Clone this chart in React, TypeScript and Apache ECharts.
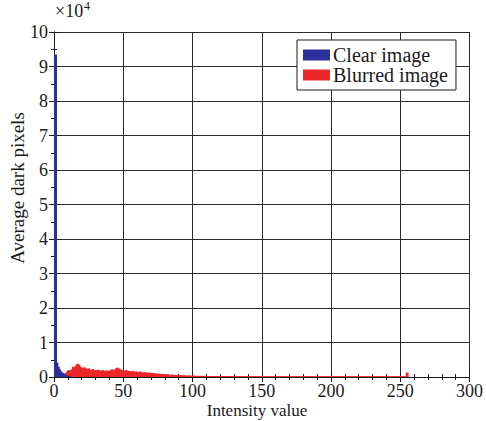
import React, { useEffect, useRef } from "react";
import * as echarts from "echarts";

// Values in units of 10^4 pixels, indexed by intensity value
const clearImage: number[] = [
  0, 9.35, 0.42, 0.3, 0.22, 0.16, 0.12, 0.09, 0.06, 0.04, 0.03, 0.02, 0.01,
];

const blurredImage: number[] = [
  0, 0, 0.02, 0.04, 0.05, 0.06, 0.07, 0.08, 0.1, 0.12,
  0.18, 0.2, 0.16, 0.22, 0.3, 0.28, 0.33, 0.38, 0.36, 0.3,
  0.27, 0.25, 0.28, 0.24, 0.22, 0.25, 0.21, 0.2, 0.23, 0.19,
  0.2, 0.18, 0.21, 0.19, 0.17, 0.2, 0.18, 0.16, 0.19, 0.18,
  0.17, 0.2, 0.22, 0.19, 0.21, 0.25, 0.27, 0.24, 0.22, 0.2,
  0.19, 0.17, 0.2, 0.18, 0.16, 0.17, 0.15, 0.18, 0.14, 0.16,
  0.15, 0.13, 0.16, 0.14, 0.12, 0.14, 0.13, 0.11, 0.13, 0.12,
  0.11, 0.12, 0.1, 0.11, 0.09, 0.1, 0.09, 0.08, 0.09, 0.08,
  0.08, 0.07, 0.08, 0.07, 0.06, 0.07, 0.06, 0.06, 0.05, 0.06,
  0.05, 0.05, 0.05, 0.04, 0.05, 0.04, 0.04, 0.04, 0.04, 0.035,
  0.035, 0.04, 0.03, 0.035, 0.03, 0.035, 0.03, 0.03, 0.035, 0.03,
  0.03, 0.03, 0.028, 0.03, 0.028, 0.03, 0.027, 0.028, 0.027, 0.026,
  0.027, 0.026, 0.025, 0.027, 0.025, 0.026, 0.024, 0.025, 0.024, 0.025,
  0.024, 0.023, 0.024, 0.023, 0.024, 0.022, 0.023, 0.022, 0.023, 0.022,
  0.022, 0.021, 0.022, 0.021, 0.022, 0.021, 0.02, 0.021, 0.02, 0.021,
  0.02, 0.021, 0.02, 0.019, 0.02, 0.021, 0.02, 0.019, 0.02, 0.02,
  0.019, 0.02, 0.021, 0.02, 0.019, 0.02, 0.02, 0.019, 0.02, 0.021,
  0.02, 0.019, 0.02, 0.02, 0.021, 0.02, 0.019, 0.02, 0.02, 0.019,
  0.02, 0.021, 0.02, 0.019, 0.02, 0.02, 0.021, 0.02, 0.019, 0.02,
  0.02, 0.019, 0.02, 0.021, 0.02, 0.02, 0.019, 0.02, 0.021, 0.02,
  0.019, 0.02, 0.02, 0.021, 0.02, 0.019, 0.02, 0.02, 0.019, 0.02,
  0.021, 0.02, 0.019, 0.02, 0.02, 0.021, 0.02, 0.019, 0.02, 0.02,
  0.019, 0.02, 0.021, 0.02, 0.019, 0.02, 0.02, 0.019, 0.02, 0.021,
  0.02, 0.019, 0.02, 0.02, 0.021, 0.02, 0.019, 0.02, 0.02, 0.019,
  0.02, 0.021, 0.02, 0.019, 0.02, 0.02, 0.021, 0.02, 0.019, 0.02,
  0.02, 0.019, 0.02, 0.021, 0.02, 0.13,
];

const seriesNames = ["Clear image", "Blurred image"];
const xTicks = { min: 0, max: 300, interval: 50 };
const yTicks = { min: 0, max: 10, interval: 1 };

const FONT = "Liberation Serif";
const INK = "#1a1a1a";

export default function App() {
  const ref = useRef<HTMLDivElement>(null);

  useEffect(() => {
    if (!ref.current) return;
    const chart = echarts.init(ref.current, null, { renderer: "svg" });

    const axisLine = { show: true, lineStyle: { color: INK, width: 1 } };
    const tick = { show: true, inside: true, length: 5, lineStyle: { color: INK } };
    const gridLine = { show: true, lineStyle: { color: "#2a2a2a", width: 1, type: "solid" } };

    chart.setOption({
      animation: false,
      backgroundColor: "#ffffff",
      textStyle: { fontFamily: FONT },
      grid: { left: 54, right: 16, top: 32, bottom: 44, containLabel: false },
      legend: {
        data: seriesNames,
        orient: "vertical",
        left: 297,
        top: 40,
        itemWidth: 27,
        itemHeight: 11,
        itemGap: 0,
        icon: "rect",
        padding: [5, 8, 5, 6],
        borderColor: INK,
        borderWidth: 1,
        borderRadius: 0,
        backgroundColor: "#ffffff",
        textStyle: { fontFamily: FONT, fontSize: 20, color: INK, padding: [0, 0, 0, -2] },
      },
      xAxis: [
        {
          type: "value",
          position: "bottom",
          ...xTicks,
          axisLine,
          axisTick: tick,
          minorTick: { show: true, splitNumber: 5, length: 3, lineStyle: { color: INK } },
          splitLine: gridLine,
          axisLabel: { fontFamily: FONT, fontSize: 18, color: INK, margin: 5 },
        },
        {
          type: "value",
          position: "top",
          ...xTicks,
          axisLine,
          axisTick: tick,
          minorTick: { show: true, splitNumber: 5, length: 3, lineStyle: { color: INK } },
          splitLine: { show: false },
          axisLabel: { show: false },
        },
      ],
      yAxis: [
        {
          type: "value",
          position: "left",
          ...yTicks,
          axisLine,
          axisTick: tick,
          minorTick: { show: true, splitNumber: 2, length: 3, lineStyle: { color: INK } },
          splitLine: gridLine,
          axisLabel: { fontFamily: FONT, fontSize: 18, color: INK, margin: 6 },
        },
        {
          type: "value",
          position: "right",
          ...yTicks,
          axisLine,
          axisTick: tick,
          minorTick: { show: true, splitNumber: 2, length: 3, lineStyle: { color: INK } },
          splitLine: { show: false },
          axisLabel: { show: false },
        },
      ],
      series: [
        {
          name: seriesNames[0],
          type: "bar",
          xAxisIndex: 0,
          yAxisIndex: 0,
          barWidth: 3,
          barGap: "-100%",
          z: 3,
          itemStyle: { color: "#2b2f9b" },
          data: clearImage.map((v, i) => [i, v]),
        },
        {
          name: seriesNames[1],
          type: "bar",
          xAxisIndex: 0,
          yAxisIndex: 0,
          barWidth: 2.8,
          barGap: "-100%",
          z: 2,
          itemStyle: { color: "#ec2629" },
          data: blurredImage.map((v, i) => [i, v]),
        },
      ],
      graphic: [
        {
          type: "text",
          x: 55,
          y: 2,
          style: { text: "×10", fontFamily: FONT, fontSize: 18, fill: INK, verticalAlign: "top" },
        },
        {
          type: "text",
          x: 84,
          y: 0,
          style: { text: "4", fontFamily: FONT, fontSize: 12, fill: INK, verticalAlign: "top" },
        },
        {
          type: "text",
          x: 257,
          y: 410,
          style: {
            text: "Intensity value",
            fontFamily: FONT,
            fontSize: 17,
            fill: INK,
            align: "center",
            verticalAlign: "middle",
          },
        },
        {
          type: "text",
          x: 17,
          y: 188,
          rotation: Math.PI / 2,
          style: {
            text: "Average dark pixels",
            fontFamily: FONT,
            fontSize: 19,
            fill: INK,
            align: "center",
            verticalAlign: "middle",
          },
        },
      ],
    });

    return () => chart.dispose();
  }, []);

  return <div ref={ref} style={{ width: 486, height: 421, position: "absolute", left: 0, top: 0 }} />;
}
